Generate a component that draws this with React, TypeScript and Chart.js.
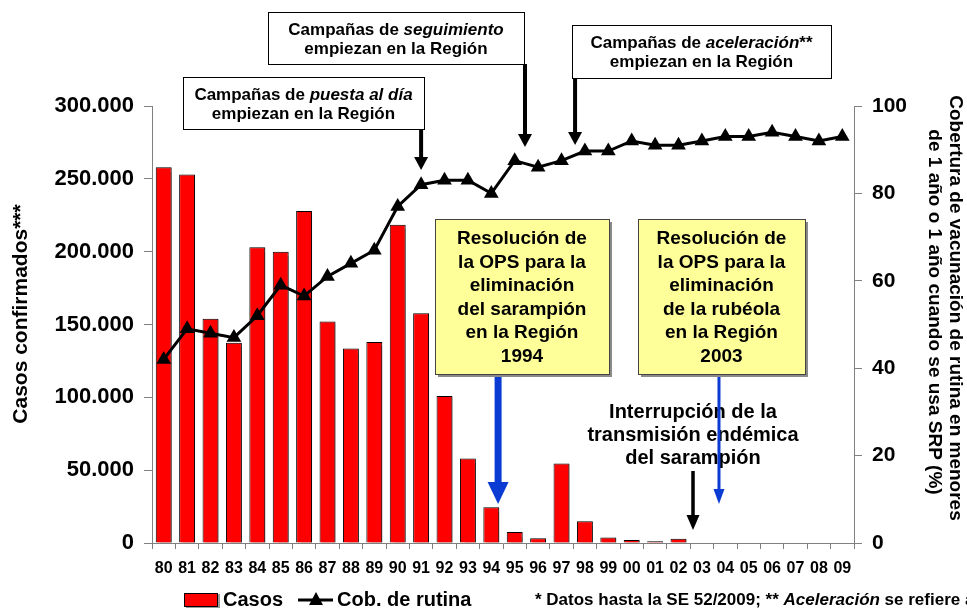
import React, { useEffect, useRef } from "react";
import { Chart, registerables } from "chart.js";

Chart.register(...registerables);

const years = ["80","81","82","83","84","85","86","87","88","89","90","91","92","93","94","95","96","97","98","99","00","01","02","03","04","05","06","07","08","09"];
const casos: (number | null)[] = [258000, 253000, 154000, 137500, 203000, 200000, 228000, 152000, 133500, 138000, 218500, 157700, 101000, 58000, 24500, 7500, 3300, 54500, 15000, 3800, 2000, 1200, 3000, null, null, null, null, null, null, null];
const cobertura = [42, 49, 48, 47, 52, 59, 56.5, 61, 64, 67, 77, 82, 83, 83, 80, 87.5, 86, 87.5, 89.7, 89.7, 92, 91, 91, 92, 93, 93, 94, 93, 92, 93];
const casosTicks = [0, 50000, 100000, 150000, 200000, 250000, 300000];
const coberturaTicks = [0, 20, 40, 60, 80, 100];

const leftTitle = "Casos confirmados***";
const rightTitle = ["Cobertura de vacunación de rutina en menores", "de 1 año o 1 año cuando se usa SRP (%)"];
const box1Lines = ["Resolución de", "la OPS para la", "eliminación", "del sarampión", "en la Región", "1994"];
const box2Lines = ["Resolución de", "la OPS para la", "eliminación", "de la rubéola", "en la Región", "2003"];
const interrLines = ["Interrupción de la", "transmisión endémica", "del sarampión"];

const FAM = '"Liberation Sans", Arial, sans-serif';
const f = (size: number, italic = false) => `${italic ? "italic " : ""}bold ${size}px ${FAM}`;

type Seg = [string, boolean];

function richCenter(ctx: CanvasRenderingContext2D, segs: Seg[], cx: number, cy: number, size: number) {
  let total = 0;
  const widths = segs.map(([t, it]) => {
    ctx.font = f(size, it);
    const w = ctx.measureText(t).width;
    total += w;
    return w;
  });
  let x = cx - total / 2;
  ctx.textAlign = "left";
  ctx.textBaseline = "middle";
  segs.forEach(([t, it], i) => {
    ctx.font = f(size, it);
    ctx.fillText(t, x, cy);
    x += widths[i];
  });
}

function richLeft(ctx: CanvasRenderingContext2D, segs: Seg[], x0: number, cy: number, size: number) {
  let x = x0;
  ctx.textAlign = "left";
  ctx.textBaseline = "middle";
  segs.forEach(([t, it]) => {
    ctx.font = f(size, it);
    ctx.fillText(t, x, cy);
    x += ctx.measureText(t).width;
  });
}

function arrow(ctx: CanvasRenderingContext2D, x: number, y0: number, y1: number, color: string, shaftW: number, headW: number, headH: number) {
  ctx.save();
  ctx.fillStyle = color;
  ctx.fillRect(x - shaftW / 2, y0, shaftW, y1 - y0 - headH + 1);
  ctx.beginPath();
  ctx.moveTo(x - headW / 2, y1 - headH);
  ctx.lineTo(x + headW / 2, y1 - headH);
  ctx.lineTo(x, y1);
  ctx.closePath();
  ctx.fill();
  ctx.restore();
}

const annotPlugin = {
  id: "annot",
  beforeDatasetDraw(chart: any, args: any) {
    if (args.index === 0) {
      const c = chart.ctx;
      c.save();
      c.shadowColor = "rgba(0,0,0,0.4)";
      c.shadowOffsetX = 2;
      c.shadowOffsetY = 1;
      c.shadowBlur = 1;
    }
  },
  afterDatasetDraw(chart: any, args: any) {
    if (args.index === 0) chart.ctx.restore();
  },
  afterDraw(chart: any) {
    const ctx: CanvasRenderingContext2D = chart.ctx;
    const { left, right } = chart.chartArea;
    const pitch = (right - left) / years.length;
    const X = (i: number) => left + (i + 0.5) * pitch;
    ctx.save();
    ctx.fillStyle = "#000";

    const topBoxes: { x: number; y: number; w: number; h: number; l1: Seg[]; l2: Seg[] }[] = [
      { x: 183, y: 77, w: 241, h: 52, l1: [["Campañas de ", false], ["puesta al día", true]], l2: [["empiezan en la Región", false]] },
      { x: 268, y: 12, w: 256, h: 52, l1: [["Campañas de ", false], ["seguimiento", true]], l2: [["empiezan en la Región", false]] },
      { x: 572, y: 25, w: 259, h: 53, l1: [["Campañas de ", false], ["aceleración", true], ["**", false]], l2: [["empiezan en la Región", false]] },
    ];
    topBoxes.forEach((b) => {
      ctx.fillStyle = "#fff";
      ctx.fillRect(b.x, b.y, b.w, b.h);
      ctx.strokeStyle = "#000";
      ctx.lineWidth = 1;
      ctx.strokeRect(b.x + 0.5, b.y + 0.5, b.w, b.h);
      ctx.fillStyle = "#000";
      richCenter(ctx, b.l1, b.x + b.w / 2, b.y + 18, 17);
      richCenter(ctx, b.l2, b.x + b.w / 2, b.y + 37, 17);
    });
    arrow(ctx, X(11), 129, 170, "#000", 4, 14, 13);
    arrow(ctx, X(15.44), 64, 147, "#000", 4, 14, 13);
    arrow(ctx, X(17.58), 78, 145, "#000", 4, 14, 13);

    const yBoxes = [
      { x: 435, y: 219, w: 174, h: 155, lines: box1Lines },
      { x: 638, y: 219, w: 167, h: 155, lines: box2Lines },
    ];
    yBoxes.forEach((b) => {
      ctx.fillStyle = "#8a8a8a";
      ctx.fillRect(b.x + 3, b.y + 3, b.w, b.h);
      ctx.fillStyle = "#ffff99";
      ctx.fillRect(b.x, b.y, b.w, b.h);
      ctx.strokeStyle = "#444";
      ctx.lineWidth = 1;
      ctx.strokeRect(b.x + 0.5, b.y + 0.5, b.w, b.h);
      ctx.fillStyle = "#000";
      b.lines.forEach((t, k) => richCenter(ctx, [[t, false]], b.x + b.w / 2, b.y + 20 + k * 23.5, 19));
    });

    ctx.fillStyle = "#000";
    interrLines.forEach((t, k) => richCenter(ctx, [[t, false]], 693, 412 + k * 23, 20));

    arrow(ctx, X(14.29), 377, 504, "#0a3cd4", 7, 21, 22);
    arrow(ctx, X(23.73), 377, 504, "#0a3cd4", 3, 11, 15);
    arrow(ctx, X(22.62), 471, 530, "#000", 3.5, 13, 15);

    ctx.fillStyle = "#000";
    ctx.save();
    ctx.translate(21, 314);
    ctx.rotate(-Math.PI / 2);
    richCenter(ctx, [[leftTitle, false]], 0, 0, 21);
    ctx.restore();

    ctx.save();
    ctx.translate(955, 308);
    ctx.rotate(Math.PI / 2);
    richCenter(ctx, [[rightTitle[0], false]], 0, 0, 19);
    ctx.restore();
    ctx.save();
    ctx.translate(934, 312);
    ctx.rotate(Math.PI / 2);
    richCenter(ctx, [[rightTitle[1], false]], 0, 0, 19);
    ctx.restore();

    ctx.save();
    ctx.shadowColor = "rgba(0,0,0,0.4)";
    ctx.shadowOffsetX = 2;
    ctx.shadowOffsetY = 1;
    ctx.fillStyle = "#000";
    ctx.fillRect(184, 593, 34, 14);
    ctx.restore();
    ctx.fillStyle = "#ff0000";
    ctx.fillRect(185, 594, 32, 12);
    ctx.fillStyle = "#000";
    richLeft(ctx, [["Casos", false]], 223, 600, 20);
    ctx.fillRect(298, 598.5, 35, 3);
    ctx.beginPath();
    ctx.moveTo(316, 592);
    ctx.lineTo(323, 605);
    ctx.lineTo(309, 605);
    ctx.closePath();
    ctx.fill();
    richLeft(ctx, [["Cob. de rutina", false]], 337, 600, 20);

    richLeft(ctx, [["* Datos hasta la SE 52/2009; ** ", false], ["Aceleración", true], [" se refiere a las campañas", false]], 535, 600, 17);

    ctx.restore();
  },
};

export default function App() {
  const ref = useRef<HTMLCanvasElement | null>(null);
  useEffect(() => {
    document.body.style.margin = "0";
    const canvas = ref.current!;
    const fmt = (v: number) => String(v).replace(/\B(?=(\d{3})+(?!\d))/g, ".");
    const chart = new Chart(canvas, {
      type: "bar",
      data: {
        labels: years,
        datasets: [
          {
            type: "bar",
            label: "Casos",
            data: casos,
            backgroundColor: "#ff0000",
            borderColor: "#000",
            borderWidth: 1,
            borderSkipped: "start",
            barPercentage: 0.68,
            categoryPercentage: 1,
            yAxisID: "y",
            order: 1,
          },
          {
            type: "line",
            label: "Cob. de rutina",
            data: cobertura,
            borderColor: "#000",
            backgroundColor: "#000",
            borderWidth: 3,
            pointStyle: "triangle",
            pointRadius: 8.5,
            pointBackgroundColor: "#000",
            pointBorderColor: "#000",
            pointBorderWidth: 0,
            tension: 0,
            yAxisID: "y1",
            order: 0,
          },
        ],
      } as any,
      options: {
        animation: false,
        responsive: true,
        maintainAspectRatio: false,
        layout: { padding: { top: 106, bottom: 0, left: 0, right: 0 } },
        plugins: { legend: { display: false }, tooltip: { enabled: false } },
        scales: {
          x: {
            grid: { display: true, drawOnChartArea: false, drawTicks: true, tickLength: 6, color: "#808080", offset: true },
            border: { display: true, color: "#808080", width: 1 },
            ticks: { color: "#000", font: { family: FAM, size: 16, weight: "bold" }, padding: 10, maxRotation: 0, autoSkip: false },
            afterFit: (s: any) => { s.height = 67; },
          },
          y: {
            position: "left",
            min: 0,
            max: 300000,
            afterBuildTicks: (s: any) => { s.ticks = casosTicks.map((v) => ({ value: v })); },
            grid: { display: true, drawOnChartArea: false, tickLength: 8, color: "#808080" },
            border: { display: true, color: "#808080", width: 1 },
            ticks: { color: "#000", font: { family: FAM, size: 22, weight: "bold" }, padding: 10, callback: (v: any) => fmt(Number(v)) },
            afterFit: (s: any) => { s.width = 152; },
          },
          y1: {
            position: "right",
            min: 0,
            max: 100,
            afterBuildTicks: (s: any) => { s.ticks = coberturaTicks.map((v) => ({ value: v })); },
            grid: { display: true, drawOnChartArea: false, tickLength: 8, color: "#808080" },
            border: { display: true, color: "#808080", width: 1 },
            ticks: { color: "#000", font: { family: FAM, size: 21, weight: "bold" }, padding: 10 },
            afterFit: (s: any) => { s.width = 113; },
          },
        },
      } as any,
      plugins: [annotPlugin],
    });
    return () => chart.destroy();
  }, []);
  return (
    <div style={{ position: "fixed", left: 0, top: 0, width: 967, height: 610, background: "#fff" }}>
      <canvas ref={ref} />
    </div>
  );
}
